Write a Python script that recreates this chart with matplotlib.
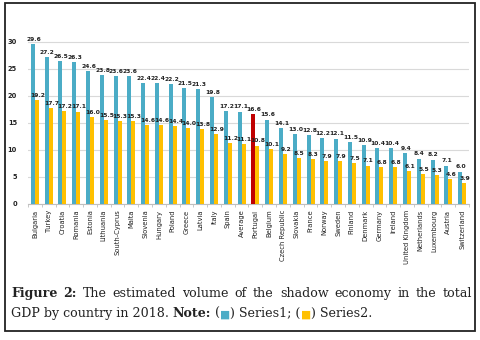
import numpy as np
import matplotlib
matplotlib.use("Agg")
import matplotlib.pyplot as plt
from matplotlib.patches import Rectangle

countries = ["Bulgaria", "Turkey", "Croatia", "Romania", "Estonia", "Lithuania",
             "South-Cyprus", "Malta", "Slovenia", "Hungary", "Poland", "Greece",
             "Latvia", "Italy", "Spain", "Average", "Portugal", "Belgium",
             "Czech Republic", "Slovakia", "France", "Norway", "Sweden", "Finland",
             "Denmark", "Germany", "Ireland", "United Kingdom", "Netherlands",
             "Luxembourg", "Austria", "Switzerland"]
series1 = [29.6, 27.2, 26.5, 26.3, 24.6, 23.8, 23.6, 23.6, 22.4, 22.4, 22.2, 21.5,
           21.3, 19.8, 17.2, 17.1, 16.6, 15.6, 14.1, 13.0, 12.8, 12.2, 12.1, 11.5,
           10.9, 10.4, 10.4, 9.4, 8.4, 8.2, 7.1, 6.0]
series2 = [19.2, 17.7, 17.2, 17.1, 16.0, 15.5, 15.3, 15.3, 14.6, 14.6, 14.4, 14.0,
           13.8, 12.9, 11.2, 11.1, 10.8, 10.1, 9.2, 8.5, 8.3, 7.9, 7.9, 7.5,
           7.1, 6.8, 6.8, 6.1, 5.5, 5.3, 4.6, 3.9]
highlight = "Portugal"

BLUE = "#4bacc6"
YELLOW = "#ffc000"
RED = "#c00000"
INK = "#222222"

fig = plt.figure(figsize=(4.81, 3.40), dpi=100)
W, H = 481, 340

# outer frame
fig.patches.append(Rectangle((4.5 / W, 1 - 331 / H), 470.5 / W, 328 / H,
                             transform=fig.transFigure, fill=False,
                             edgecolor=INK, linewidth=1.3))

ax = fig.add_axes([28 / W, 1 - 204 / H, 441 / W, 172 / H])
x = np.arange(len(countries))
w = 0.29
c1 = [RED if c == highlight else BLUE for c in countries]
ax.bar(x - w / 2, series1, w, color=c1, zorder=3)
ax.bar(x + w / 2, series2, w, color=YELLOW, zorder=3)

for i in range(len(countries)):
    ax.text(x[i] - w / 2 + 0.05, series1[i] + 0.4, f"{series1[i]:.1f}", ha="center",
            va="bottom", fontsize=4.3, fontweight="bold", color=INK, zorder=4)
    ax.text(x[i] + w / 2 + 0.05, series2[i] + 0.4, f"{series2[i]:.1f}", ha="center",
            va="bottom", fontsize=4.3, fontweight="bold", color=INK, zorder=4)

ax.set_xlim(-0.5, len(countries) - 0.5)
ax.set_ylim(0, 31.8)
ax.set_yticks(range(0, 31, 5))
ax.grid(axis="y", color="#d9d9d9", linewidth=0.8, zorder=0)
ax.set_xticks(x)
ax.set_xticklabels(countries, rotation=90, fontsize=4.9, color=INK)
ax.tick_params(axis="x", length=0, pad=4)
ax.tick_params(axis="y", length=0, labelsize=4.8, pad=8, labelcolor=INK)
for t in ax.get_yticklabels():
    t.set_fontweight("bold")
for s in ["top", "right", "left"]:
    ax.spines[s].set_visible(False)
ax.spines["bottom"].set_color("#bfbfbf")
ax.spines["bottom"].set_linewidth(0.8)
# small ticks between categories
ax.set_xticks(np.arange(-0.5, len(countries), 1), minor=True)
ax.tick_params(axis="x", which="minor", length=2.5, color="#bfbfbf", width=0.6)

# caption, first line justified between the margins
serif = "DejaVu Serif"
fs = 9.1
left, right = 11, 472
words = [("Figure", "bold"), ("2:", "bold")] + \
        [(wd, "normal") for wd in "The estimated volume of the shadow economy in the total".split()]
arts = [fig.text(0, 1 - 300 / H, wd, family=serif, fontsize=fs, fontweight=wt,
                 va="bottom", color=INK) for wd, wt in words]
fig.canvas.draw()
r = fig.canvas.get_renderer()
widths = [a.get_window_extent(r).width for a in arts]
gap = (right - left - sum(widths)) / (len(arts) - 1)
pos = left
for a, wd in zip(arts, widths):
    a.set_x(pos / W)
    pos += wd + gap

l2 = fig.text(left / W, 1 - 320 / H, "GDP by country in 2018. ", family=serif,
              fontsize=fs, va="bottom", color=INK)
prev = l2
pieces = [("Note:", "bold", INK, serif), (" (", "normal", INK, serif),
          ("\u25a0", "normal", BLUE, "DejaVu Sans"),
          (") Series1; (", "normal", INK, serif),
          ("\u25a0", "normal", YELLOW, "DejaVu Sans"),
          (") Series2.", "normal", INK, serif)]
for txt, wt, col, fam in pieces:
    prev = plt.annotate(txt, xy=(1, 0), xycoords=prev, va="bottom", ha="left",
                        family=fam, fontsize=fs if fam == serif else fs * 0.85,
                        fontweight=wt, color=col, annotation_clip=False)

fig.savefig("out.png", dpi=100)
